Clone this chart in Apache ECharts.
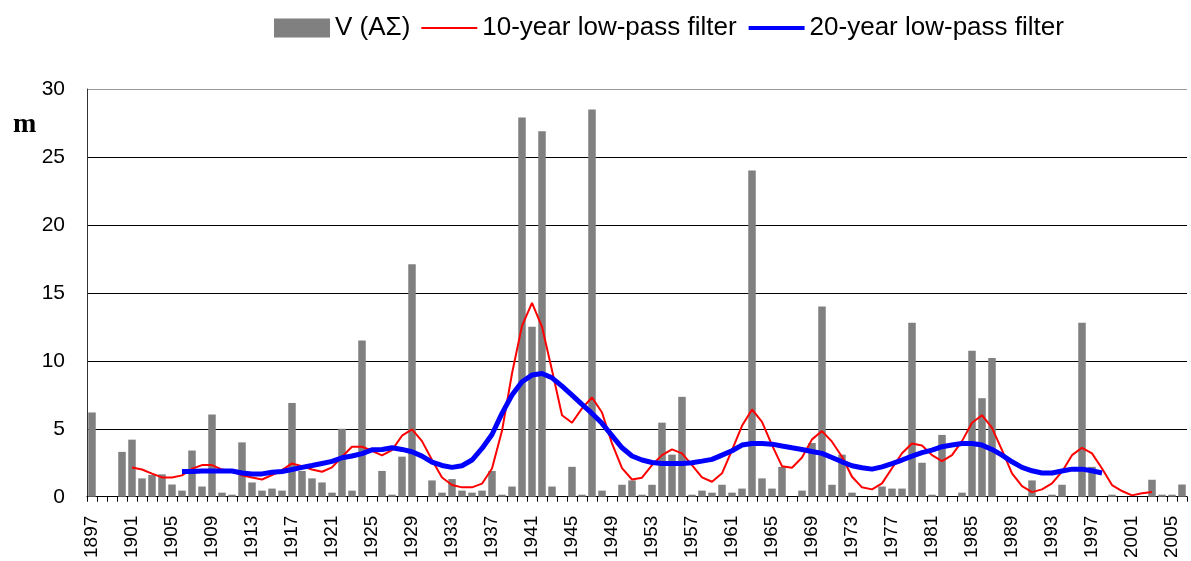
<!DOCTYPE html>
<html>
<head>
<meta charset="utf-8">
<script src="https://cdn.jsdelivr.net/npm/echarts@6/dist/echarts.min.js"></script>
<style>
html,body{margin:0;padding:0;background:#fff;}
#chart{width:1191px;height:561px;}
</style>
</head>
<body>
<div id="chart"></div>
<script>
// Years 1897..2006
var years = [];
for (var y = 1897; y <= 2006; y++) years.push(String(y));

// V (ΑΣ) annual values, 1897..2006
var barValues = [
  6.2, 0, 0, 3.3, 4.2, 1.35, 1.6, 1.65, 0.9, 0.45,        // 1897-1906
  3.4, 0.75, 6.05, 0.3, 0.15, 4.0, 1.05, 0.45, 0.6, 0.45,  // 1907-1916
  6.9, 1.9, 1.35, 1.05, 0.3, 5.0, 0.45, 11.5, 0, 1.9,      // 1917-1926
  0.15, 2.95, 17.1, 0, 1.2, 0.3, 1.3, 0.45, 0.3, 0.45,     // 1927-1936
  1.9, 0.15, 0.75, 27.9, 12.5, 26.9, 0.75, 0, 2.2, 0.15,   // 1937-1946
  28.5, 0.45, 0, 0.88, 1.2, 0.15, 0.88, 5.45, 3.1, 7.35,   // 1947-1956
  0.15, 0.45, 0.3, 0.88, 0.3, 0.6, 24.0, 1.35, 0.6, 2.2,   // 1957-1966
  0, 0.45, 3.95, 14.0, 0.88, 3.1, 0.3, 0, 0, 0.75,         // 1967-1976
  0.6, 0.6, 12.8, 2.5, 0.15, 4.55, 0, 0.3, 10.75, 7.25,    // 1977-1986
  10.2, 0, 0, 0, 1.2, 0, 0.15, 0.88, 0, 12.8,              // 1987-1996
  2.2, 0, 0.15, 0, 0, 0, 1.25, 0.15, 0.15, 0.9             // 1997-2006
];

// 10-year low-pass filter, 1901..2003
var filter10Start = 1901;
var filter10 = [
  2.15, 2.0, 1.7, 1.42, 1.42, 1.57, 2.06, 2.33, 2.33, 2.0,     // 1901-1910
  1.9, 1.57, 1.42, 1.27, 1.6, 1.96, 2.45, 2.25, 2.0, 1.84,     // 1911-1920
  2.16, 2.94, 3.68, 3.68, 3.38, 3.04, 3.43, 4.49, 4.95, 4.09,  // 1921-1930
  2.7, 1.42, 0.86, 0.69, 0.69, 0.96, 2.08, 4.85, 9.07, 12.57,  // 1931-1940
  14.26, 12.5, 9.3, 6.0, 5.44, 6.5, 7.3, 6.2, 3.92, 2.1,       // 1941-1950
  1.27, 1.4, 2.33, 3.06, 3.48, 3.19, 2.33, 1.42, 1.1, 1.72,    // 1951-1960
  3.43, 5.22, 6.42, 5.51, 3.8, 2.25, 2.13, 2.89, 4.22, 4.83,   // 1961-1970
  4.05, 2.94, 1.47, 0.69, 0.54, 0.98, 2.1, 3.2, 3.92, 3.77,    // 1971-1980
  3.06, 2.62, 3.06, 4.09, 5.44, 6.0, 5.07, 3.43, 1.72, 0.78,   // 1981-1990
  0.34, 0.54, 0.98, 1.84, 3.06, 3.6, 3.19, 2.08, 0.86, 0.42,   // 1991-2000
  0.1, 0.25, 0.34                                              // 2001-2003
];

// 20-year low-pass filter, 1906..1998
var filter20Start = 1906;
var filter20 = [
  1.86, 1.86, 1.89, 1.89, 1.89, 1.89, 1.75, 1.68, 1.68, 1.8,   // 1906-1915
  1.86, 2.0, 2.16, 2.3, 2.45, 2.6, 2.87, 3.0, 3.17, 3.45,      // 1916-1925
  3.48, 3.6, 3.48, 3.31, 2.99, 2.55, 2.3, 2.16, 2.28, 2.7,     // 1926-1935
  3.55, 4.58, 6.13, 7.48, 8.46, 8.95, 9.07, 8.75, 8.14, 7.48,  // 1936-1945
  6.8, 6.13, 5.4, 4.5, 3.6, 3.0, 2.7, 2.52, 2.45, 2.45,        // 1946-1955
  2.45, 2.5, 2.62, 2.75, 3.06, 3.38, 3.8, 3.92, 3.92, 3.87,    // 1956-1965
  3.73, 3.6, 3.48, 3.33, 3.19, 2.89, 2.57, 2.28, 2.13, 2.03,   // 1966-1975
  2.2, 2.43, 2.7, 2.99, 3.24, 3.43, 3.68, 3.8, 3.92, 3.92,     // 1976-1985
  3.8, 3.48, 3.06, 2.57, 2.16, 1.91, 1.75, 1.75, 1.89, 2.03,   // 1986-1995
  2.03, 1.91, 1.75                                             // 1996-1998
];

var yTicks = [0, 5, 10, 15, 20, 25, 30];

function alignToYears(start, vals) {
  var out = [];
  for (var i = 0; i < years.length; i++) {
    var k = (1897 + i) - start;
    out.push(k >= 0 && k < vals.length ? vals[k] : null);
  }
  return out;
}

var chart = echarts.init(document.getElementById('chart'));
var FONT = '"Liberation Sans", Arial, sans-serif';
chart.setOption({
  animation: false,
  backgroundColor: '#ffffff',
  grid: { left: 87, right: 4, top: 89, bottom: 64, containLabel: false },
  legend: {
    left: 269, top: 10,
    itemWidth: 56, itemHeight: 19, itemGap: 10,
    textStyle: { fontFamily: FONT, fontSize: 26, color: '#000' },
    data: [
      { name: 'V (ΑΣ)', icon: 'rect' },
      { name: '10-year low-pass filter', itemStyle: { opacity: 0 }, lineStyle: { width: 2, color: '#ff0000' } },
      { name: '20-year low-pass filter', itemStyle: { opacity: 0 }, lineStyle: { width: 4, color: '#0000ff' } }
    ]
  },
  graphic: [{
    type: 'text', left: 13, top: 111,
    style: { text: 'm', font: 'bold 28px "Liberation Serif", "Times New Roman", serif', fill: '#000' }
  }],
  xAxis: {
    type: 'category',
    data: years,
    boundaryGap: true,
    axisLine: { lineStyle: { color: '#000', width: 1 } },
    axisTick: { show: true, interval: 0, length: 5, lineStyle: { color: '#000' } },
    axisLabel: { interval: 3, rotate: 90, fontFamily: FONT, fontSize: 19, color: '#000', margin: 19 },
    splitLine: { show: false }
  },
  yAxis: {
    type: 'value',
    min: yTicks[0], max: yTicks[yTicks.length - 1], interval: 5,
    axisLine: { show: true, lineStyle: { color: '#333', width: 1 } },
    axisTick: { show: false },
    axisLabel: { fontFamily: FONT, fontSize: 21, color: '#000', margin: 22 },
    splitLine: { show: true, lineStyle: { color: ['#000', '#000', '#000', '#000', '#000', '#000', '#999'], width: 1 } }
  },
  series: [
    {
      name: 'V (ΑΣ)', type: 'bar', data: barValues,
      barWidth: '75%',
      itemStyle: { color: '#808080' },
      z: 2
    },
    {
      name: '10-year low-pass filter', type: 'line',
      data: alignToYears(filter10Start, filter10),
      symbol: 'none', smooth: false, connectNulls: false,
      lineStyle: { color: '#ff0000', width: 2 },
      itemStyle: { color: '#ff0000' },
      z: 3
    },
    {
      name: '20-year low-pass filter', type: 'line',
      data: alignToYears(filter20Start, filter20),
      symbol: 'none', smooth: false, connectNulls: false,
      lineStyle: { color: '#0000ff', width: 5 },
      itemStyle: { color: '#0000ff' },
      z: 4
    }
  ]
});
</script>
</body>
</html>
